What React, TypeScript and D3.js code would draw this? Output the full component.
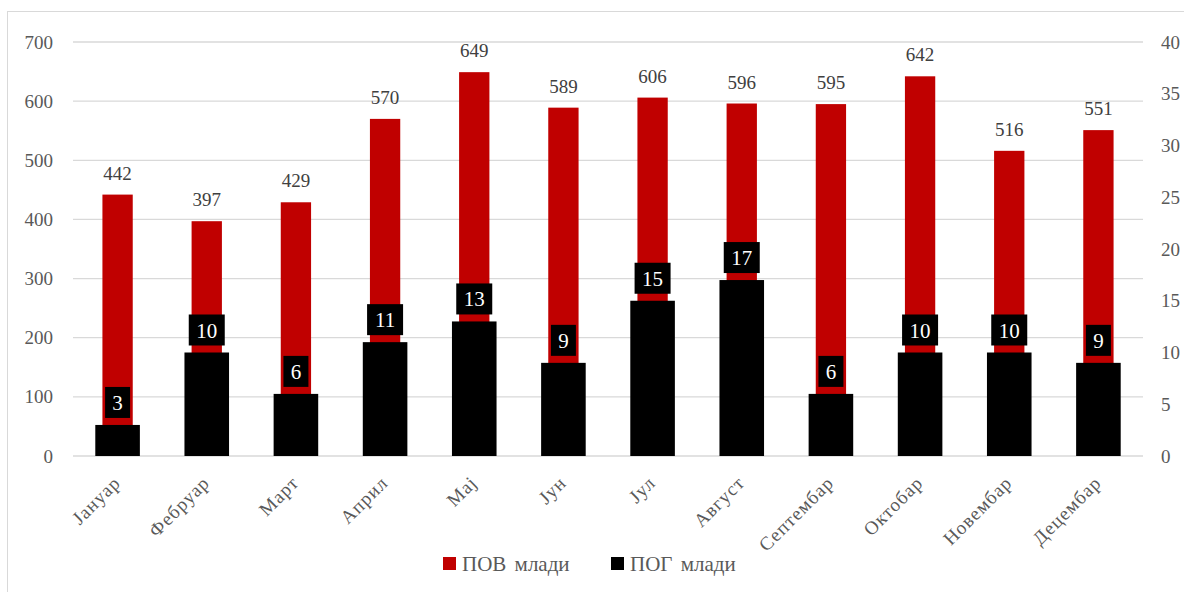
import * as d3 from 'd3';
import { useEffect, useRef } from 'react';

const months = [
  'Јануар', 'Фебруар', 'Март', 'Април', 'Мај', 'Јун',
  'Јул', 'Август', 'Септембар', 'Октобар', 'Новембар', 'Децембар',
];
const povMladi = [442, 397, 429, 570, 649, 589, 606, 596, 595, 642, 516, 551];
const pogMladi = [3, 10, 6, 11, 13, 9, 15, 17, 6, 10, 10, 9];
const leftTicks = [0, 100, 200, 300, 400, 500, 600, 700];
const rightTicks = [0, 5, 10, 15, 20, 25, 30, 35, 40];
const seriesNames = ['ПОВ млади', 'ПОГ млади'];

const RED = '#c00000';
const GREY = '#595959';
const FONT = 'Liberation Serif, DejaVu Serif, serif';

function App() {
  const chartRef = useRef<SVGSVGElement>(null);

  useEffect(() => {
    const root = d3.select(chartRef.current);
    root.selectAll('*').remove();

    const width = 1184;
    const height = 592;
    const margin = { top: 42, right: 41, bottom: 136, left: 73 };
    const plotW = width - margin.left - margin.right;
    const plotH = height - margin.top - margin.bottom;

    // outer frame
    root
      .append('rect')
      .attr('x', 7.5)
      .attr('y', 11.5)
      .attr('width', width)
      .attr('height', height)
      .attr('fill', '#fff')
      .attr('stroke', '#d9d9d9');

    const svg = root
      .append('g')
      .attr('transform', `translate(${margin.left},${margin.top})`);

    const x = d3.scaleBand().domain(months).range([0, plotW]).padding(0);
    const yL = d3.scaleLinear().domain([0, 700]).range([plotH, 0]);
    const yR = d3.scaleLinear().domain([0, 40]).range([plotH, 0]);

    // gridlines
    svg
      .selectAll('.grid')
      .data(leftTicks)
      .enter()
      .append('line')
      .attr('x1', 0)
      .attr('x2', plotW)
      .attr('y1', (d) => yL(d))
      .attr('y2', (d) => yL(d))
      .attr('stroke', '#d9d9d9')
      .attr('stroke-width', 1.3);

    // left axis
    const left = svg
      .append('g')
      .call(d3.axisLeft(yL).tickValues(leftTicks).tickSize(0).tickPadding(20))
      .attr('font-family', FONT)
      .attr('font-size', 19);
    left.select('.domain').remove();
    left.selectAll('text').attr('fill', GREY);

    // right axis
    const right = svg
      .append('g')
      .attr('transform', `translate(${plotW},0)`)
      .call(d3.axisRight(yR).tickValues(rightTicks).tickSize(0).tickPadding(18))
      .attr('font-family', FONT)
      .attr('font-size', 19);
    right.select('.domain').remove();
    right.selectAll('text').attr('fill', GREY);

    // month labels
    svg
      .selectAll('.month')
      .data(months)
      .enter()
      .append('text')
      .attr('text-anchor', 'end')
      .attr(
        'transform',
        (d) => `translate(${(x(d) as number) + x.bandwidth() / 2 + 4},${plotH + 28}) rotate(-45)`
      )
      .attr('fill', GREY)
      .attr('font-family', FONT)
      .attr('font-size', 19)
      .attr('letter-spacing', 1)
      .text((d) => d);

    const redW = x.bandwidth() * 0.34;
    const blackW = x.bandwidth() * 0.5;
    const cx = (i: number) => (x(months[i]) as number) + x.bandwidth() / 2;

    // red bars (left axis)
    svg
      .selectAll('.pov')
      .data(povMladi)
      .enter()
      .append('rect')
      .attr('x', (_d, i) => cx(i) - redW / 2)
      .attr('y', (d) => yL(d))
      .attr('width', redW)
      .attr('height', (d) => plotH - yL(d))
      .attr('fill', RED);

    svg
      .selectAll('.povLabel')
      .data(povMladi)
      .enter()
      .append('text')
      .attr('x', (_d, i) => cx(i))
      .attr('y', (d) => yL(d) - 15)
      .attr('text-anchor', 'middle')
      .attr('fill', '#404040')
      .attr('font-family', FONT)
      .attr('font-size', 19)
      .text((d) => d);

    // black bars (right axis)
    svg
      .selectAll('.pog')
      .data(pogMladi)
      .enter()
      .append('rect')
      .attr('x', (_d, i) => cx(i) - blackW / 2)
      .attr('y', (d) => yR(d))
      .attr('width', blackW)
      .attr('height', (d) => plotH - yR(d))
      .attr('fill', '#000');

    // black label boxes
    const boxes = svg
      .selectAll('.pogLabel')
      .data(pogMladi)
      .enter()
      .append('g')
      .attr('transform', (d, i) => `translate(${cx(i)},${yR(d) - 7})`);
    boxes
      .append('rect')
      .attr('x', (d) => -(String(d).length > 1 ? 36 : 25) / 2)
      .attr('y', -31)
      .attr('width', (d) => (String(d).length > 1 ? 36 : 25))
      .attr('height', 31)
      .attr('fill', '#000');
    boxes
      .append('text')
      .attr('y', -8)
      .attr('text-anchor', 'middle')
      .attr('fill', '#fff')
      .attr('font-family', FONT)
      .attr('font-size', 21)
      .text((d) => d);

    // legend
    const legend = root.append('g').attr('transform', 'translate(443,557)');
    const legendX = [0, 168];
    const legendColors = [RED, '#000'];
    seriesNames.forEach((name, i) => {
      legend
        .append('rect')
        .attr('x', legendX[i])
        .attr('y', 0)
        .attr('width', 13)
        .attr('height', 13)
        .attr('fill', legendColors[i]);
      legend
        .append('text')
        .attr('x', legendX[i] + 19)
        .attr('y', 14)
        .attr('fill', GREY)
        .attr('font-family', FONT)
        .attr('font-size', 21)
        .attr('word-spacing', 3)
        .text(name);
    });
  }, []);

  return (
    <svg
      ref={chartRef}
      width={1184}
      height={592}
      style={{ position: 'absolute', left: 0, top: 0 }}
    />
  );
}

export default App;
